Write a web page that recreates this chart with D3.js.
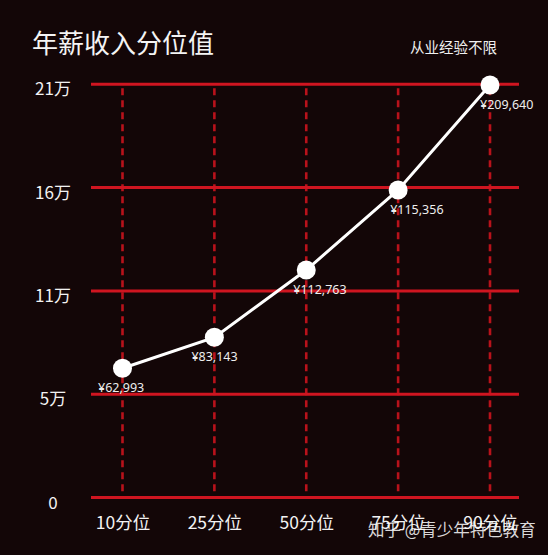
<!DOCTYPE html>
<html><head><meta charset="utf-8">
<script src="https://cdn.jsdelivr.net/npm/d3@7"></script>
<style>
html,body{margin:0;padding:0;background:#130607;}
svg{display:block;font-family:"Noto Sans CJK SC","Noto Sans",sans-serif;}
</style></head>
<body>
<svg id="c" width="548" height="555"></svg>
<script>
// ---- data ----
const categories = ["10分位","25分位","50分位","75分位","90分位"];
const values = [65700, 81400, 115600, 156300, 209640];      // plotted positions
const valueLabels = ["¥62,993","¥83,143","¥112,763","¥115,356","¥209,640"];
const yTicks = [0, 52500, 105000, 157500, 210000];
const yTickLabels = ["0","5万","11万","16万","21万"];
const title = "年薪收入分位值";
const subtitle = "从业经验不限";
const watermark = "知乎 @青少年特色教育";

// ---- layout ----
const labelDx = [-24.5, -23, -13, -8, -10];
const W = 548, H = 555;
const gridX0 = 91, gridX1 = 519;
const svg = d3.select("#c");
svg.append("rect").attr("width",W).attr("height",H).attr("fill","#130607");

const x = d3.scalePoint().domain(categories).range([122.5, 490]);
const y = d3.scaleLinear().domain([0, 210000]).range([497.5, 84.3]);

// vertical dashed lines
svg.append("g").selectAll("line").data(categories).join("line")
  .attr("x1", d=>x(d)).attr("x2", d=>x(d))
  .attr("y1", y(210000)+4).attr("y2", y(0))
  .attr("stroke","#b8121b").attr("stroke-width",2.6)
  .attr("stroke-dasharray","7,5");

// horizontal grid lines
svg.append("g").selectAll("line").data(yTicks).join("line")
  .attr("x1", gridX0).attr("x2", gridX1)
  .attr("y1", d=>y(d)).attr("y2", d=>y(d))
  .attr("stroke","#cf1520").attr("stroke-width",3);

// y axis labels
const yAxis = d3.axisLeft(y).tickValues(yTicks).tickSize(0)
  .tickFormat((d,i)=>yTickLabels[i]);
const gy = svg.append("g").attr("transform",`translate(${gridX0},0)`).call(yAxis);
gy.select(".domain").remove();
gy.selectAll("text").attr("x", 53-gridX0).attr("dy", null).attr("y", 10.5)
  .attr("text-anchor","middle").attr("fill","#f2f2f2")
  .style("font-size","17px").style("font-family",'"Noto Sans CJK SC","Noto Sans",sans-serif');

// x axis labels
const xAxis = d3.axisBottom(x).tickSize(0);
const gx = svg.append("g").attr("transform",`translate(0,${y(0)})`).call(xAxis);
gx.select(".domain").remove();
gx.selectAll("text").attr("dy", null).attr("y", 529 - y(0))
  .attr("fill","#f2f2f2")
  .style("font-size","17.5px").style("font-family",'"Noto Sans CJK SC","Noto Sans",sans-serif');

// line
const line = d3.line().x((d,i)=>x(categories[i])).y(d=>y(d));
svg.append("path").datum(values).attr("d", line)
  .attr("fill","none").attr("stroke","#ffffff").attr("stroke-width",3);

// points
svg.append("g").selectAll("circle").data(values).join("circle")
  .attr("cx",(d,i)=>x(categories[i])).attr("cy",d=>y(d)).attr("r",9.5)
  .attr("fill","#ffffff");

// value labels
svg.append("g").selectAll("text").data(values).join("text")
  .attr("x",(d,i)=>x(categories[i]) + labelDx[i])
  .attr("y",d=>y(d)+24)
  .attr("fill","#eeeeee").style("font-size","12.5px")
  .style("font-family",'"Noto Sans","Noto Sans CJK SC",sans-serif')
  .text((d,i)=>valueLabels[i]);

// title & subtitle
svg.append("text").attr("x",32).attr("y",53).attr("fill","#f4f4f4")
  .style("font-size","26px").text(title);
svg.append("text").attr("x",497).attr("y",53).attr("text-anchor","end")
  .attr("fill","#f0f0f0").style("font-size","14.5px").text(subtitle);

// watermark
svg.append("text").attr("x",368).attr("y",535.5).attr("fill","#ffffff")
  .attr("fill-opacity",0.85).style("font-size","16.5px").text(watermark);
</script>
</body></html>
